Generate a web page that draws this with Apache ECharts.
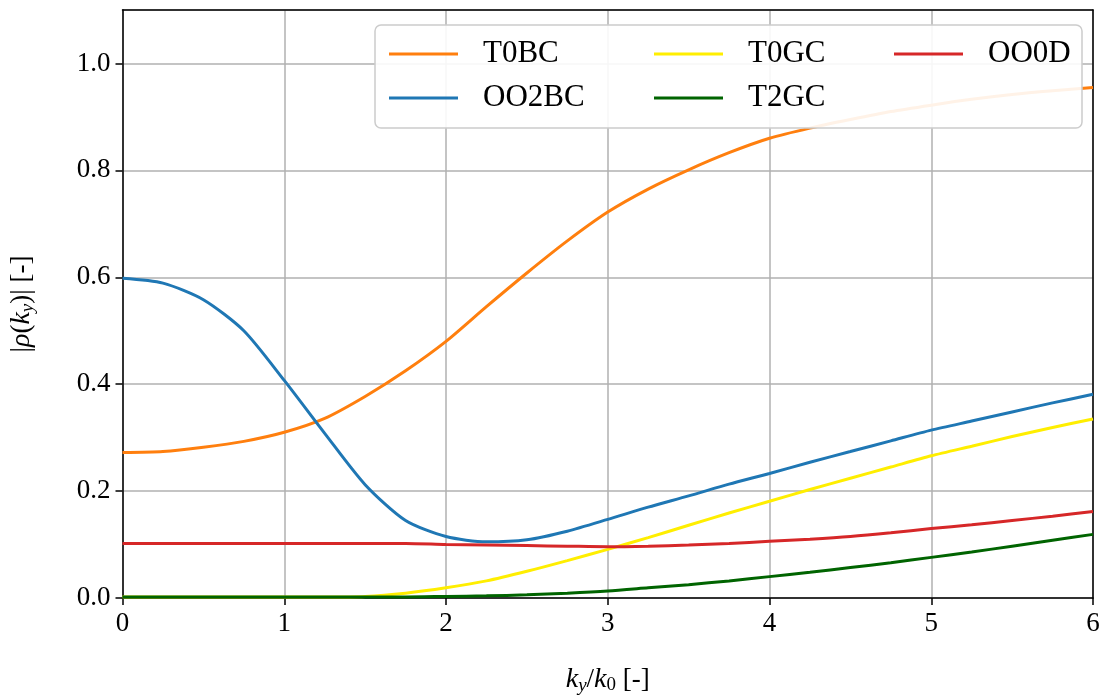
<!DOCTYPE html>
<html>
<head>
<meta charset="utf-8">
<script src="https://cdn.jsdelivr.net/npm/echarts@6/dist/echarts.min.js"></script>
<style>html,body{margin:0;padding:0;background:#fff}#c{width:1105px;height:700px}</style>
</head>
<body>
<div id="c"></div>
<script>
const kx = [0,0.25,0.5,0.75,1,1.25,1.5,1.75,2,2.25,2.5,2.75,3,3.25,3.5,3.75,4,4.25,4.5,4.75,5,5.25,5.5,5.75,6];
const T0BC  = [0.272,0.274,0.282,0.293,0.310,0.336,0.377,0.425,0.480,0.545,0.608,0.668,0.722,0.765,0.801,0.833,0.860,0.879,0.895,0.910,0.922,0.933,0.942,0.949,0.955];
const OO2BC = [0.598,0.589,0.558,0.500,0.407,0.308,0.212,0.145,0.115,0.105,0.109,0.125,0.147,0.170,0.191,0.213,0.233,0.254,0.274,0.294,0.314,0.331,0.348,0.365,0.381];
const T0GC  = [0.002,0.002,0.002,0.002,0.002,0.002,0.003,0.009,0.019,0.032,0.050,0.070,0.091,0.113,0.136,0.159,0.181,0.203,0.224,0.245,0.266,0.284,0.302,0.319,0.335];
const T2GC  = [0.002,0.002,0.002,0.002,0.002,0.002,0.002,0.002,0.003,0.004,0.006,0.009,0.013,0.019,0.025,0.032,0.040,0.048,0.057,0.066,0.076,0.086,0.097,0.108,0.119];
const OO0D  = [0.102,0.102,0.102,0.102,0.102,0.102,0.102,0.102,0.100,0.099,0.098,0.097,0.096,0.097,0.099,0.102,0.106,0.110,0.115,0.122,0.130,0.137,0.145,0.153,0.162];
const seriesNames = ['T0BC','OO2BC','T0GC','T2GC','OO0D'];
const seriesData = [T0BC, OO2BC, T0GC, T2GC, OO0D];
const colors = ['#ff7f0e','#1f77b4','#ffee00','#006400','#d62728'];

const FONT = 'Liberation Serif';
const chart = echarts.init(document.getElementById('c'), null, {renderer:'canvas'});
const pair = arr => arr.map((v,i)=>[kx[i], v]);
const legendCommon = {
  orient:'vertical', icon:'rect', itemWidth:69, itemHeight:3, itemGap:12, z:5,
  textStyle:{fontFamily:FONT, fontSize:31, color:'#000', lineHeight:32, padding:[0,0,0,20]},
  selectedMode:false
};
const rich = {
  i:{fontFamily:FONT,fontStyle:'italic',fontSize:28,color:'#000'},
  si:{fontFamily:FONT,fontStyle:'italic',fontSize:19,color:'#000',padding:[12,0,0,0]},
  s:{fontFamily:FONT,fontSize:19,color:'#000',padding:[12,0,0,0]},
  n:{fontFamily:FONT,fontSize:27,color:'#000'}
};
const frameAxis = {
  axisLine:{show:true, onZero:false, lineStyle:{color:'#000', width:1.5}},
  axisTick:{show:false}, axisLabel:{show:false}, splitLine:{show:false}
};
chart.setOption({
  animation:false,
  color: colors,
  grid:{left:122, right:12, top:10, bottom:92},
  xAxis:[{
    type:'value', min:0, max:6, interval:1, position:'bottom',
    axisLine:{onZero:false, lineStyle:{color:'#000', width:1.5}},
    axisTick:{show:true, length:7, lineStyle:{color:'#000', width:1.5}},
    axisLabel:{fontFamily:FONT, fontSize:27, color:'#000', margin:12},
    splitLine:{show:true, lineStyle:{color:'#b0b0b0', width:1.5}},
    name:'{i|k}{si|y}{n|/}{i|k}{s|0}{n| [-]}', nameLocation:'middle', nameGap:66,
    nameTextStyle:{fontFamily:FONT, fontSize:27, color:'#000', rich}
  }, Object.assign({type:'value', min:0, max:6, position:'top'}, frameAxis)],
  yAxis:[{
    type:'value', min:0, max:1.1, interval:0.2, position:'left',
    axisLine:{show:true, onZero:false, lineStyle:{color:'#000', width:1.5}},
    axisTick:{show:true, length:7, lineStyle:{color:'#000', width:1.5}},
    axisLabel:{fontFamily:FONT, fontSize:27, color:'#000', margin:12, showMaxLabel:false,
      formatter: v => v.toFixed(1)},
    splitLine:{show:true, lineStyle:{color:'#b0b0b0', width:1.5}},
    name:'{n||}{i|ρ}{n|(}{i|k}{si|y}{n|)| [-]}', nameLocation:'middle', nameGap:85, nameRotate:90,
    nameTextStyle:{fontFamily:FONT, fontSize:27, color:'#000', rich}
  }, Object.assign({type:'value', min:0, max:1.1, position:'right'}, frameAxis)],
  legend:[
    Object.assign({left:384, top:33, data:['T0BC','OO2BC']}, legendCommon),
    Object.assign({left:649, top:33, data:['T0GC','T2GC']}, legendCommon),
    Object.assign({left:889, top:33, data:['OO0D']}, legendCommon)
  ],
  graphic:[{type:'rect', z:4, shape:{x:375, y:25, width:707, height:103, r:6},
    style:{fill:'rgba(255,255,255,0.9)', stroke:'#cccccc', lineWidth:1.5}}],
  series: seriesNames.map((n,i)=>({
    name:n, type:'line', data:pair(seriesData[i]), smooth:0.25, showSymbol:false, symbol:'none',
    lineStyle:{width:3, color:colors[i]}, itemStyle:{color:colors[i]}, z:2
  }))
});
</script>
</body>
</html>
